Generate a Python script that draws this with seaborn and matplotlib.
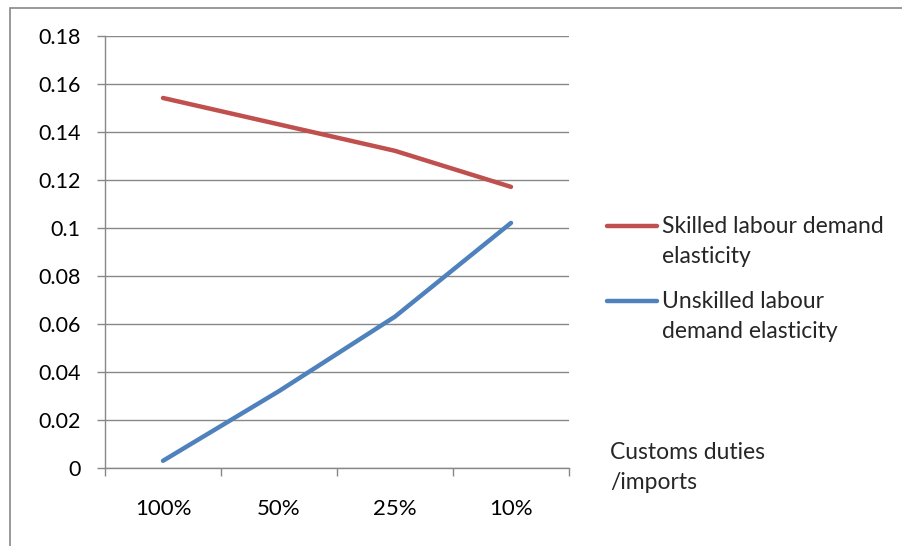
import numpy as np
import pandas as pd
import matplotlib
matplotlib.use("Agg")
import matplotlib.pyplot as plt
from matplotlib.legend_handler import HandlerLine2D
from matplotlib.patches import Rectangle
from matplotlib.ticker import FixedLocator, FuncFormatter
import seaborn as sns

# data
categories = ["100%", "50%", "25%", "10%"]
skilled = [0.154, 0.143, 0.132, 0.117]
unskilled = [0.003, 0.032, 0.063, 0.102]
series_names = ["Skilled labour demand\nelasticity", "Unskilled labour\ndemand elasticity"]
y_ticks = [0, 0.02, 0.04, 0.06, 0.08, 0.1, 0.12, 0.14, 0.16, 0.18]
x_title = "Customs duties\n/imports"

df = pd.DataFrame({
    "duty": categories * 2,
    "value": skilled + unskilled,
    "series": [series_names[0]] * 4 + [series_names[1]] * 4,
})

sns.set_theme(style="white")
plt.rcParams["font.family"] = ["Lato", "DejaVu Sans"]

GREY = "#888888"
FS = 16.5

fig = plt.figure(figsize=(9.02, 5.46), dpi=100)
ax = fig.add_axes([105 / 902, 1 - 468 / 546, (569 - 105) / 902, (468 - 35.5) / 546])

sns.lineplot(data=df, x="duty", y="value", hue="series", sort=False,
             palette={series_names[0]: "#C0504D", series_names[1]: "#4F81BD"},
             linewidth=3.2, ax=ax, legend=True)

ax.set_xlim(-0.5, 3.5)
ax.set_ylim(0, 0.18)
ax.set_yticks(y_ticks)
ax.yaxis.set_major_formatter(FuncFormatter(lambda v, p: f"{round(v, 2):g}"))
ax.yaxis.grid(True, color=GREY, linewidth=1)
ax.set_axisbelow(True)
ax.xaxis.set_minor_locator(FixedLocator([-0.5, 0.5, 1.5, 2.5, 3.5]))
ax.tick_params(axis="x", which="major", length=0, pad=22, labelsize=16, colors="black")
ax.tick_params(axis="x", which="minor", length=6, width=1, color=GREY, direction="out", bottom=True)
ax.tick_params(axis="y", length=6, width=1, color=GREY, pad=11.5, labelsize=15.5, labelcolor="black", left=True)
for side in ["top", "right"]:
    ax.spines[side].set_visible(False)
for side in ["left", "bottom"]:
    ax.spines[side].set_color(GREY)
    ax.spines[side].set_linewidth(1)

ax.set_ylabel("")
ax.set_xlabel(x_title, fontsize=FS, ha="left", va="top", linespacing=1.55)
ax.xaxis.set_label_coords(1.088, 0.06)


class TopHandler(HandlerLine2D):
    # put the legend line next to the first text line instead of centring it
    def create_artists(self, legend, orig_handle, xdescent, ydescent, width, height, fontsize, trans):
        return super().create_artists(legend, orig_handle, xdescent, ydescent - 1.4 * fontsize,
                                      width, height, fontsize, trans)


handles, labels = ax.get_legend_handles_labels()
leg = ax.legend(handles, labels, loc="upper left", bbox_to_anchor=(1.037, 0.631), frameon=False,
                fontsize=FS, handlelength=2.2, handletextpad=0.2, labelspacing=1.05,
                handler_map={h: TopHandler() for h in handles})
for t in leg.get_texts():
    t.set_linespacing(1.55)

fig.patches.append(Rectangle((10 / 902, -0.1), 1.2, 1.1 - 8 / 546, transform=fig.transFigure,
                             fill=False, edgecolor=GREY, linewidth=1.2))

fig.savefig("out.png", dpi=100)
